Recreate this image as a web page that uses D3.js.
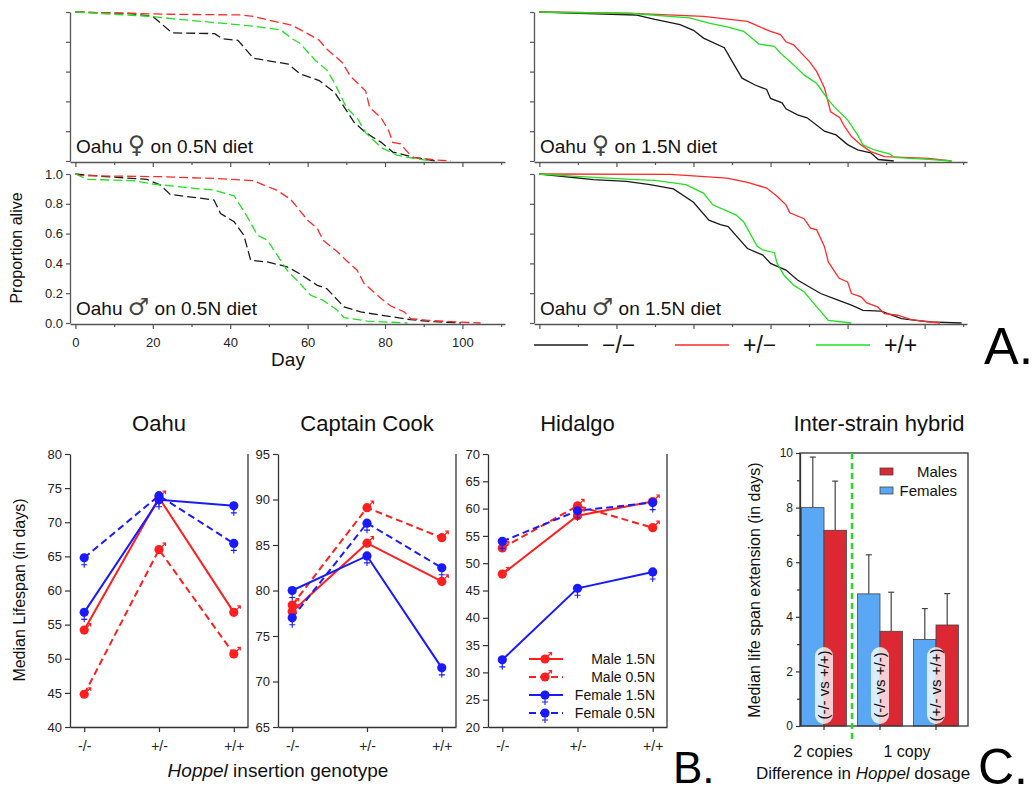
<!DOCTYPE html>
<html>
<head>
  <title>Hoppel lifespan figure</title>
  <script src="https://cdn.jsdelivr.net/npm/d3@7"></script>
  <style>
    body { margin: 0; background: #fff; font-family: Arial, "Liberation Sans", sans-serif; }
  </style>
</head>
<body>
<script>
// ---------- A. survival curves: [day, proportion alive] ----------
const femLowMinus = [[0,1],[14,0.99],[20,0.97],[25,0.86],[36,0.855],[38,0.82],[42,0.81],[46,0.69],[55,0.65],[58,0.585],[63,0.54],[67,0.46],[70,0.34],[72,0.26],[75,0.19],[79,0.125],[82,0.06],[87.5,0.025],[93,0]];
const femLowHet = [[0,1],[24,0.985],[43,0.98],[46,0.97],[56,0.91],[60,0.855],[63,0.81],[65,0.75],[69,0.66],[71,0.57],[75,0.47],[76,0.36],[79,0.29],[81,0.2],[82,0.125],[84,0.115],[87,0.025],[93,0.007],[97,0]];
const femLowPlus = [[0,1],[20,0.97],[25,0.955],[46,0.905],[53,0.88],[56,0.82],[58,0.79],[62,0.675],[65,0.61],[67,0.52],[70,0.36],[73,0.28],[75,0.19],[79,0.09],[83,0.04],[87,0.02],[92,0]];

const femHighMinus = [[0,1],[25,0.98],[30,0.95],[36.5,0.915],[40,0.877],[42.6,0.825],[48,0.76],[50,0.67],[52.6,0.556],[56,0.51],[59,0.48],[60,0.42],[63,0.39],[64,0.35],[67,0.31],[69.5,0.29],[74,0.2],[77,0.175],[80,0.11],[82.6,0.075],[86,0.055],[88,0.01],[92,0]];
const femHighHet = [[0,1],[22.6,0.993],[42.6,0.97],[54,0.937],[56.5,0.908],[60,0.87],[62.6,0.848],[64,0.8],[66,0.78],[68,0.724],[70,0.67],[72,0.6],[74,0.49],[75.6,0.33],[78,0.29],[79,0.24],[81,0.164],[83.5,0.108],[86,0.063],[89.6,0.03],[101,0.018],[107,0]];
const femHighPlus = [[0,1],[24,0.99],[39,0.96],[44,0.926],[48.7,0.9],[53,0.87],[57,0.785],[61,0.77],[62.6,0.724],[66,0.645],[68.7,0.578],[72,0.52],[75,0.41],[76.5,0.365],[80,0.276],[82.6,0.175],[84,0.108],[87,0.074],[91,0.047],[92,0.025],[101,0.011],[107,0]];

const maleLowMinus = [[0,1],[6.5,0.985],[18.5,0.964],[22,0.925],[24.5,0.863],[30.6,0.843],[35.8,0.825],[37.5,0.735],[41,0.68],[43.5,0.59],[45.3,0.42],[49.6,0.41],[54.7,0.377],[58,0.33],[62.5,0.253],[65,0.23],[69.4,0.108],[73.7,0.074],[79.7,0.05],[86.6,0.022],[92.7,0.009],[99.6,0]];
const maleLowHet = [[0,1],[1.3,0.989],[22,0.982],[35.8,0.97],[46,0.955],[48.7,0.926],[52,0.892],[55.6,0.83],[60,0.69],[62.5,0.635],[64,0.556],[67.7,0.478],[70,0.42],[72.8,0.354],[74.6,0.265],[77,0.21],[79,0.164],[81.5,0.114],[85,0.074],[86.6,0.03],[91,0.018],[97,0.009],[104.7,0]];
const maleLowPlus = [[0,1],[3,0.964],[15,0.955],[20,0.933],[30.6,0.904],[35.8,0.892],[41,0.854],[44.4,0.713],[47,0.59],[49.6,0.556],[54.7,0.354],[58,0.265],[60.8,0.186],[64,0.152],[67.7,0.085],[69.4,0.036],[75.4,0.013],[85.8,0]];

const maleHighMinus = [[0,1],[14,0.962],[22.6,0.95],[28.7,0.928],[34.8,0.9],[40,0.81],[44,0.69],[47,0.66],[49,0.647],[54,0.5],[58,0.456],[60,0.4],[64,0.355],[67,0.288],[73,0.198],[76.5,0.164],[81,0.12],[84,0.085],[88.7,0.08],[94,0.03],[101,0.007],[109.6,0]];
const maleHighHet = [[0,1],[34,0.998],[48.7,0.973],[54,0.944],[59,0.906],[61.7,0.85],[64,0.793],[65,0.74],[68.7,0.7],[70.4,0.636],[72,0.625],[74,0.512],[75,0.41],[77.8,0.3],[80,0.276],[81,0.198],[83.5,0.175],[85,0.135],[87.8,0.108],[89.6,0.063],[93,0.052],[96.5,0.022],[104,0]];
const maleHighPlus = [[0,1],[9.6,0.984],[25,0.962],[30,0.957],[38,0.928],[42.6,0.872],[45,0.793],[51,0.726],[53,0.68],[56.5,0.517],[58,0.49],[61,0.472],[61.7,0.4],[63.5,0.32],[66,0.254],[68.7,0.21],[72,0.108],[75,0.018],[81,0]];

const dayTicks = [0, 20, 40, 60, 80, 100];
const dayMinorTicks = [10, 30, 50, 70, 90, 110];
const propTicks = [0, 0.2, 0.4, 0.6, 0.8, 1.0];
const genotypeKeys = ["\u2212/\u2212", "+/\u2212", "+/+"];

// ---------- B. median lifespan by genotype ----------
const genotypes = ["-/-", "+/-", "+/+"];
const seriesNames = ["Male 1.5N", "Male 0.5N", "Female 1.5N", "Female 0.5N"];
const oahuMale15 = [54.2, 73.6, 56.8];
const oahuMale05 = [44.8, 66.0, 50.7];
const oahuFem15 = [56.8, 73.3, 72.4];
const oahuFem05 = [64.8, 73.9, 66.9];
const cookMale15 = [77.7, 85.2, 81.0];
const cookMale05 = [78.4, 89.1, 85.8];
const cookFem15 = [80.0, 83.8, 71.5];
const cookFem05 = [77.0, 87.4, 82.5];
const hidalgoMale15 = [48.0, 58.7, 61.3];
const hidalgoMale05 = [52.8, 60.5, 56.5];
const hidalgoFem15 = [32.3, 45.4, 48.4];
const hidalgoFem05 = [54.0, 59.6, 61.1];

// ---------- C. inter-strain hybrid ----------
const dosageGroups = ["(-/- vs +/+)", "(-/- vs +/-)", "(+/- vs +/+)"];
const femaleExt = [8.0, 4.84, 3.17];
const femaleErr = [1.85, 1.43, 1.13];
const maleExt = [7.17, 3.47, 3.70];
const maleErr = [1.80, 1.43, 1.15];
const barTicks = [0, 2, 4, 6, 8, 10];
const barMinorTicks = [1, 3, 5, 7, 9];

const FONT = 'Arial, "Liberation Sans", "DejaVu Sans", sans-serif';
const RED = "#ff1f1f", BLUE = "#1a1aff";

const svg = d3.select("body").append("svg")
  .attr("width", 1034).attr("height", 796)
  .style("font-family", FONT);

function styleAxis(g, size, color) {
  g.attr("font-family", FONT).attr("font-size", size);
  g.select(".domain").attr("stroke", color).attr("stroke-width", 1.3);
  g.selectAll(".tick line").attr("stroke", color).attr("stroke-width", 1.2);
  g.selectAll(".tick text").attr("fill", "#222");
}

// ================= Panel A =================
const survPanels = [
  {x0: 70, x1: 505, y0: 161, y1: 12, strain: "Oahu", sex: "\u2640", diet: "on 0.5N diet", curves: [femLowMinus, femLowHet, femLowPlus], dashed: true, labels: false},
  {x0: 534, x1: 967, y0: 161, y1: 12, strain: "Oahu", sex: "\u2640", diet: "on 1.5N diet", curves: [femHighMinus, femHighHet, femHighPlus], dashed: false, labels: false},
  {x0: 70, x1: 505, y0: 323, y1: 174, strain: "Oahu", sex: "\u2642", diet: "on 0.5N diet", curves: [maleLowMinus, maleLowHet, maleLowPlus], dashed: true, labels: true},
  {x0: 534, x1: 967, y0: 323, y1: 174, strain: "Oahu", sex: "\u2642", diet: "on 1.5N diet", curves: [maleHighMinus, maleHighHet, maleHighPlus], dashed: false, labels: false}
];
const genoColors = ["#1a1a1a", "#ff2a2a", "#22e022"];

survPanels.forEach(p => {
  const x = d3.scaleLinear().domain([-1.4, 111]).range([p.x0, p.x1]);
  const y = d3.scaleLinear().domain([0, 1]).range([p.y0, p.y1]);
  const line = d3.line().x(d => x(d[0])).y(d => y(d[1]));

  p.curves.forEach((c, i) => {
    svg.append("path").datum(c)
      .attr("d", line)
      .attr("fill", "none")
      .attr("stroke", genoColors[i])
      .attr("stroke-width", 1.3)
      .attr("stroke-dasharray", p.dashed ? "9,4" : null);
  });

  const gy = svg.append("g").attr("transform", `translate(${p.x0},0)`)
    .call(d3.axisLeft(y).tickValues(propTicks).tickSize(4).tickSizeOuter(0).tickPadding(3)
      .tickFormat(p.labels ? d3.format(".1f") : ""));
  styleAxis(gy, 13, "#555");

  const gx = svg.append("g").attr("transform", `translate(0,${p.y0 + 1})`)
    .call(d3.axisBottom(x).tickValues(dayTicks).tickSize(5).tickSizeOuter(0).tickPadding(9)
      .tickFormat(p.labels ? d3.format("d") : ""));
  styleAxis(gx, 13, "#555");
  const gm = svg.append("g").attr("transform", `translate(0,${p.y0 + 1})`)
    .call(d3.axisBottom(x).tickValues(dayMinorTicks).tickSize(3).tickFormat(""));
  gm.select(".domain").remove();
  styleAxis(gm, 13, "#555");

  const t = svg.append("text").attr("x", p.x0 + 6).attr("y", p.y0 - 8)
    .attr("font-size", 19).attr("fill", "#111");
  t.append("tspan").text(p.strain + " ");
  t.append("tspan").attr("font-family", '"DejaVu Sans", sans-serif').attr("font-size", 24).attr("fill", "#444").text(p.sex);
  t.append("tspan").text(" " + p.diet);
});

svg.append("text").attr("transform", "translate(22,248) rotate(-90)")
  .attr("text-anchor", "middle").attr("font-size", 16).attr("fill", "#111").text("Proportion alive");
svg.append("text").attr("x", 288).attr("y", 366)
  .attr("text-anchor", "middle").attr("font-size", 19).attr("fill", "#111").text("Day");

// legend for A
const legA = d3.scaleOrdinal().domain(genotypeKeys).range([534, 675, 816]);
genotypeKeys.forEach((k, i) => {
  svg.append("line").attr("x1", legA(k)).attr("x2", legA(k) + 54)
    .attr("y1", 345).attr("y2", 345).attr("stroke", genoColors[i]).attr("stroke-width", 1.4);
  svg.append("text").attr("x", legA(k) + 68).attr("y", 353)
    .attr("font-size", 23).attr("fill", "#111").text(k);
});
svg.append("text").attr("x", 984).attr("y", 364).attr("font-size", 52).attr("fill", "#000").text("A.");

// ================= Panel B =================
const strainPanels = [
  {title: "Oahu", x0: 70, x1: 248, domain: [40, 80], series: [oahuMale15, oahuMale05, oahuFem15, oahuFem05]},
  {title: "Captain Cook", x0: 278, x1: 456, domain: [65, 95], series: [cookMale15, cookMale05, cookFem15, cookFem05]},
  {title: "Hidalgo", x0: 488, x1: 667, domain: [20, 70], series: [hidalgoMale15, hidalgoMale05, hidalgoFem15, hidalgoFem05]}
];
const seriesStyle = [
  {color: RED, dash: null, sex: "m"},
  {color: RED, dash: "7,4", sex: "m"},
  {color: BLUE, dash: null, sex: "f"},
  {color: BLUE, dash: "7,4", sex: "f"}
];

function marker(g, cx, cy, color, sex) {
  if (sex === "m") {
    g.append("path")
      .attr("d", `M${cx + 2},${cy - 2}L${cx + 6},${cy - 6}M${cx + 3.5},${cy - 6.5}L${cx + 6.5},${cy - 6.5}L${cx + 6.5},${cy - 3.5}`)
      .attr("fill", "none").attr("stroke", color).attr("stroke-width", 1.2);
  } else {
    g.append("path")
      .attr("d", `M${cx},${cy + 3}L${cx},${cy + 10}M${cx - 3},${cy + 7}L${cx + 3},${cy + 7}`)
      .attr("fill", "none").attr("stroke", color).attr("stroke-width", 1.1);
  }
  g.append("circle").attr("cx", cx).attr("cy", cy).attr("r", 4.6).attr("fill", color);
}

const yTop = 454, yBot = 727;
strainPanels.forEach(p => {
  const x = d3.scalePoint().domain(genotypes).range([p.x0, p.x1]).padding(0.19);
  const y = d3.scaleLinear().domain(p.domain).range([yBot, yTop]);
  const g = svg.append("g");

  const line = d3.line().x((d, i) => x(genotypes[i])).y(d => y(d));
  p.series.forEach((s, si) => {
    const st = seriesStyle[si];
    g.append("path").datum(s).attr("d", line)
      .attr("fill", "none").attr("stroke", st.color).attr("stroke-width", 2)
      .attr("stroke-dasharray", st.dash);
  });
  p.series.forEach((s, si) => {
    s.forEach((v, i) => marker(g, x(genotypes[i]), y(v), seriesStyle[si].color, seriesStyle[si].sex));
  });

  const gy = svg.append("g").attr("transform", `translate(${p.x0},0)`)
    .call(d3.axisLeft(y).tickValues(d3.range(p.domain[0], p.domain[1] + 1, 5)).tickSize(5).tickSizeOuter(0).tickPadding(3));
  styleAxis(gy, 13, "#333");
  const gx = svg.append("g").attr("transform", `translate(0,${yBot})`)
    .call(d3.axisBottom(x).tickSize(5).tickSizeOuter(0).tickPadding(9));
  styleAxis(gx, 14, "#333");
  svg.append("line").attr("x1", p.x1).attr("x2", p.x1).attr("y1", yTop).attr("y2", yBot)
    .attr("stroke", "#333").attr("stroke-width", 1.3);

  svg.append("text").attr("x", (p.x0 + p.x1) / 2).attr("y", 431)
    .attr("text-anchor", "middle").attr("font-size", 22).attr("fill", "#111").text(p.title);
});

// legend B
const legB = d3.scalePoint().domain(seriesNames).range([659, 713]);
seriesNames.forEach((n, i) => {
  const st = seriesStyle[i];
  const ly = legB(n);
  svg.append("line").attr("x1", 529).attr("x2", 563).attr("y1", ly).attr("y2", ly)
    .attr("stroke", st.color).attr("stroke-width", 2).attr("stroke-dasharray", st.dash);
  marker(svg, 545, ly, st.color, st.sex);
  svg.append("text").attr("x", 655).attr("y", ly + 5).attr("text-anchor", "end")
    .attr("font-size", 14).attr("fill", "#111").text(n);
});

svg.append("text").attr("transform", "translate(25,590) rotate(-90)")
  .attr("text-anchor", "middle").attr("font-size", 16).attr("fill", "#111").text("Median Lifespan (in days)");
const xl = svg.append("text").attr("x", 278).attr("y", 777).attr("text-anchor", "middle")
  .attr("font-size", 19).attr("fill", "#111");
xl.append("tspan").attr("font-style", "italic").text("Hoppel");
xl.append("tspan").text(" insertion genotype");
svg.append("text").attr("x", 673).attr("y", 783).attr("font-size", 44).attr("fill", "#000").text("B.");

// ================= Panel C =================
const cx0 = 800, cx1 = 968, cyTop = 453, cyBot = 726;
const xb = d3.scaleBand().domain(dosageGroups).range([796, 964]).paddingInner(0.2).paddingOuter(0.1);
const yb = d3.scaleLinear().domain([0, 10]).range([cyBot, cyTop]);
const bw = xb.bandwidth() / 2;
const gc = svg.append("g");

const barSets = [
  {vals: femaleExt, errs: femaleErr, color: "#5aa8f5", off: 0},
  {vals: maleExt, errs: maleErr, color: "#dc2832", off: bw}
];
barSets.forEach(b => {
  b.vals.forEach((v, i) => {
    const bx = xb(dosageGroups[i]) + b.off;
    const cxm = bx + bw / 2;
    gc.append("line").attr("x1", cxm).attr("x2", cxm).attr("y1", yb(v)).attr("y2", yb(v + b.errs[i]))
      .attr("stroke", "#444").attr("stroke-width", 1.2);
    gc.append("line").attr("x1", cxm - 3).attr("x2", cxm + 3).attr("y1", yb(v + b.errs[i])).attr("y2", yb(v + b.errs[i]))
      .attr("stroke", "#444").attr("stroke-width", 1.2);
    gc.append("rect").attr("x", bx).attr("y", yb(v)).attr("width", bw).attr("height", yb(0) - yb(v))
      .attr("fill", b.color).attr("stroke", "#444").attr("stroke-width", 0.8);
  });
});

dosageGroups.forEach(d => {
  const mx = xb(d) + xb.bandwidth() / 2;
  gc.append("rect").attr("x", mx - 9).attr("y", 647).attr("width", 18).attr("height", 77).attr("rx", 9)
    .attr("fill", "#fff").attr("fill-opacity", 0.78);
  gc.append("text").attr("transform", `translate(${mx + 5},${685}) rotate(-90)`)
    .attr("text-anchor", "middle").attr("font-size", 15).attr("fill", "#111").text(d);
});

// frame
gc.append("rect").attr("x", cx0).attr("y", cyTop).attr("width", cx1 - cx0).attr("height", cyBot - cyTop)
  .attr("fill", "none").attr("stroke", "#333").attr("stroke-width", 1.3);
const gyc = svg.append("g").attr("transform", `translate(${cx0},0)`)
  .call(d3.axisLeft(yb).tickValues(barTicks).tickSize(4).tickSizeOuter(0).tickPadding(3));
styleAxis(gyc, 12, "#333");
const gyc2 = svg.append("g").attr("transform", `translate(${cx0},0)`)
  .call(d3.axisLeft(yb).tickValues(barMinorTicks).tickSize(3).tickFormat(""));
gyc2.select(".domain").remove();
styleAxis(gyc2, 12, "#333");
const gxc = svg.append("g").attr("transform", `translate(0,${cyBot})`)
  .call(d3.axisBottom(xb).tickSize(4).tickSizeOuter(0).tickFormat(""));
gxc.select(".domain").remove();
styleAxis(gxc, 12, "#333");

svg.append("line").attr("x1", 852).attr("x2", 852).attr("y1", cyTop).attr("y2", 742)
  .attr("stroke", "#22dd22").attr("stroke-width", 2.5).attr("stroke-dasharray", "6,4");

// legend C
[["Males", "#dc2832", 472], ["Females", "#5aa8f5", 491]].forEach(([t, c, ly]) => {
  svg.append("rect").attr("x", 880).attr("y", ly - 4).attr("width", 13).attr("height", 7)
    .attr("fill", c).attr("stroke", "#444").attr("stroke-width", 0.8);
  svg.append("text").attr("x", 957).attr("y", ly + 5).attr("text-anchor", "end")
    .attr("font-size", 15).attr("fill", "#111").text(t);
});

svg.append("text").attr("x", 879).attr("y", 431).attr("text-anchor", "middle")
  .attr("font-size", 22).attr("fill", "#111").text("Inter-strain hybrid");
svg.append("text").attr("transform", "translate(760,590) rotate(-90)")
  .attr("text-anchor", "middle").attr("font-size", 16).attr("fill", "#111").text("Median life span extension (in days)");
svg.append("text").attr("x", 823).attr("y", 757).attr("text-anchor", "middle").attr("font-size", 16).attr("fill", "#111").text("2 copies");
svg.append("text").attr("x", 907).attr("y", 757).attr("text-anchor", "middle").attr("font-size", 16).attr("fill", "#111").text("1 copy");
const xlc = svg.append("text").attr("x", 863).attr("y", 779).attr("text-anchor", "middle")
  .attr("font-size", 17).attr("fill", "#111");
xlc.append("tspan").text("Difference in ");
xlc.append("tspan").attr("font-style", "italic").text("Hoppel");
xlc.append("tspan").text(" dosage");
svg.append("text").attr("x", 978).attr("y", 784).attr("font-size", 50).attr("fill", "#000").text("C.");
</script>
</body>
</html>
